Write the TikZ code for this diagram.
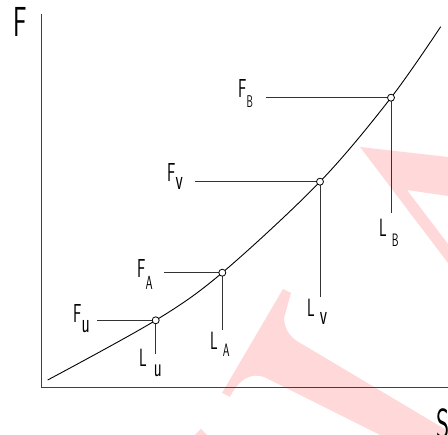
\documentclass[tikz,border=0pt]{standalone}
\usepackage{fontspec}
\usepackage{graphicx}
\usetikzlibrary{positioning}

% narrow drafting lettering
\newcommand{\cadtxt}[2]{\scalebox{0.6}[1]{\fontsize{#1}{#1}\selectfont #2}}

\begin{document}
\begin{tikzpicture}[
  x=1pt, y=-1pt,
  font=\sffamily,
  axis/.style={draw=black!75, line width=1pt},
  curve/.style={draw=black, line width=0.9pt},
  leader/.style={draw=black!80, line width=0.9pt},
  pt/.style={circle, draw=black, line width=0.8pt, fill=white, minimum size=7pt, inner sep=0pt},
  lab/.style={inner sep=0pt, anchor=base west},
  wmark/.style={fill=red!15, draw=none}
]
\clip (0,0) rectangle (448,435);

% ---------------- watermark ----------------
\fill[wmark] (360,147) -- (448,157) -- (448,196) -- (407,190) -- (448,244) -- (448,263) -- cycle;
\fill[wmark] (283,289) -- (291,293) -- (284,318) .. controls (285,332) and (292,339) .. (302,344)
  -- (448,431) -- (448,435) -- (380,435) -- (266,378) .. controls (252,371) and (238,380) .. (230,397)
  -- (222,393) -- cycle;
\fill[wmark] (195,435) -- (201,429) -- (207,435) -- cycle;

% ---------------- axes ----------------
\coordinate (ytop) at (41,14);
\coordinate (origin) at (41,388);
\coordinate (xend) at (448,388);
\draw[axis] (ytop) -- (origin) -- (xend);
\node[lab] (force) at (13,37) {\cadtxt{42}{F}};
\node[lab] (stroke) at (436,439) {\cadtxt{42}{S}};

% ---------------- curve ----------------
\coordinate (start) at (47.7,380);
\coordinate (pu) at (155.7,320.3);
\coordinate (pa) at (222.3,272.7);
\coordinate (pv) at (320,181.7);
\coordinate (pb) at (391,97.7);
\coordinate (stop) at (440.7,26.7);
\draw[curve] plot[smooth, tension=0.55] coordinates {(start) (pu) (pa) (pv) (pb) (stop)};

% ---------------- leaders ----------------
\coordinate (fu-end) at (97,320.3);
\coordinate (fa-end) at (164,272.7);
\coordinate (fv-end) at (195,181.7);
\coordinate (fb-end) at (266,97.7);
\coordinate (lu-end) at (155.7,354);
\coordinate (la-end) at (222.3,330);
\coordinate (lv-end) at (320,297);
\coordinate (lb-end) at (391,213);
\foreach \p/\f/\l in {pu/fu-end/lu-end, pa/fa-end/la-end, pv/fv-end/lv-end, pb/fb-end/lb-end} {
  \draw[leader] (\f) -- (\p) -- (\l);
}
\foreach \p in {pu, pa, pv, pb}
  \node[pt] (\p-o) at (\p) {};

% ---------------- labels ----------------
\node[lab] (fu) at (73,323) {\cadtxt{26}{F}\raisebox{-10pt}{\cadtxt{28}{u}}};
\node[lab] (fa) at (137,278) {\cadtxt{26}{F}\raisebox{-12pt}{\cadtxt{19}{A}}};
\node[lab] (fv) at (167,182) {\cadtxt{26}{F}\raisebox{-8pt}{\cadtxt{28}{v}}};
\node[lab] (fb) at (238,98) {\cadtxt{26}{F}\raisebox{-10pt}{\cadtxt{17}{B}}};
\node[lab] (lu) at (139,367) {\cadtxt{25}{L}\hspace{7pt}\raisebox{-10pt}{\cadtxt{27}{u}}};
\node[lab] (la) at (210,350) {\cadtxt{25}{L}\hspace{5pt}\raisebox{-7pt}{\cadtxt{18}{A}}};
\node[lab] (lv) at (307,317) {\cadtxt{25}{L}\hspace{5pt}\raisebox{-8pt}{\cadtxt{28}{v}}};
\node[lab] (lb) at (379,237) {\cadtxt{25}{L}\hspace{5pt}\raisebox{-10pt}{\cadtxt{18}{B}}};
\end{tikzpicture}
\end{document}
